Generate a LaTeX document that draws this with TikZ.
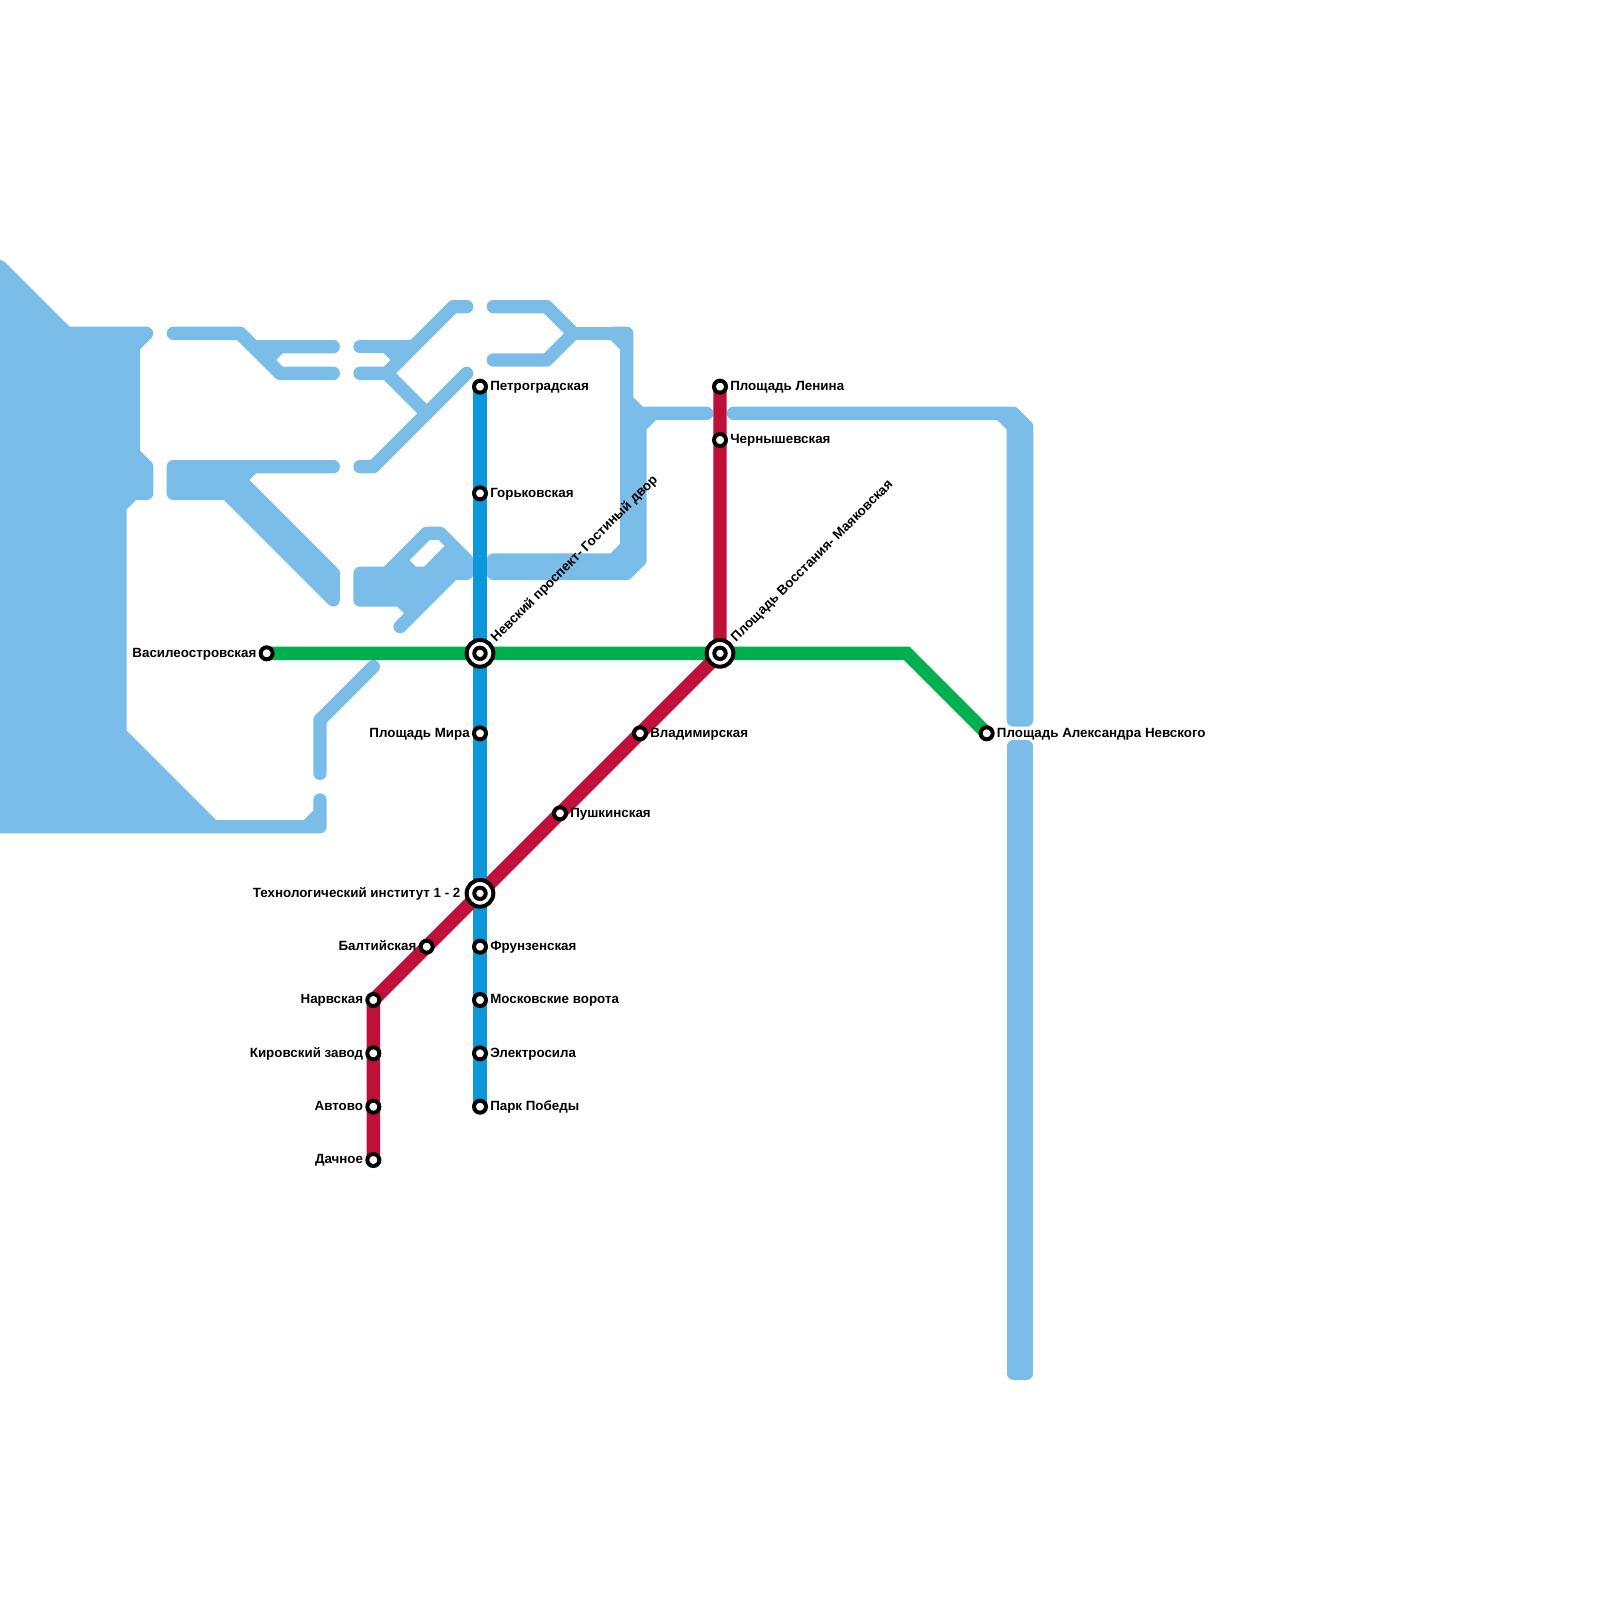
\documentclass[tikz,border=0pt]{standalone}
\usepackage{fontspec}
\setmainfont{Liberation Sans}
\usetikzlibrary{positioning, calc}
\pgfdeclarelayer{under}
\pgfsetlayers{under,main}
\definecolor{waterc}{HTML}{7ABDE9}
\definecolor{blueline}{HTML}{0B97D9}
\definecolor{redline}{HTML}{BE1038}
\definecolor{greenline}{HTML}{00B050}
\tikzset{
  water/.style={draw=waterc, line width=0.3333cm, line cap=round, line join=round},
  waterfill/.style={water, fill=waterc},
  metro/.style={line width=0.3333cm},
  stn/.style={draw=black, circle, fill=white, line width=0.1cm, minimum size=0.3cm, inner sep=0pt},
  hub/.style={draw=black, circle, fill=white, line width=0.1cm, minimum size=0.667cm, inner sep=0pt},
  hubin/.style={stn, minimum size=0.285cm},
  lbl/.style={font=\fontsize{9.5}{11}\selectfont\bfseries, inner sep=0pt, text height=0.25cm, text depth=0.06cm}
}
\begin{document}
\begin{tikzpicture}[x=0.33333cm, y=-0.33333cm]
    \useasboundingbox (0,0) rectangle (120,120);
    % станции
    \node[hub] (nevsky) at (36,49) {};
    \node[hub] (vosst) at (54,49) {};
    \node[hub] (tehno) at (36,67) {};
    \node[stn] (petro) at (36,29) {};
    \node[stn] (gorky) at (36,37) {};
    \node[stn] (mira) at (36,55) {};
    \node[stn] (frunze) at (36,71) {};
    \node[stn] (moskva) at (36,75) {};
    \node[stn] (elektro) at (36,79) {};
    \node[stn] (park) at (36,83) {};
    \node[stn] (lenin) at (54,29) {};
    \node[stn] (chern) at (54,33) {};
    \node[stn] (vlad) at (48,55) {};
    \node[stn] (pushk) at (42,61) {};
    \node[stn] (balt) at (32,71) {};
    \node[stn] (narva) at (28,75) {};
    \node[stn] (kirov) at (28,79) {};
    \node[stn] (avtovo) at (28,83) {};
    \node[stn] (dachnoe) at (28,87) {};
    \node[stn] (vasil) at (20,49) {};
    \node[stn] (nevskogo) at (74,55) {};
    \node[hubin] (nevsky_in) at (nevsky) {};
    \node[hubin] (vosst_in) at (vosst) {};
    \node[hubin] (tehno_in) at (tehno) {};
    \coordinate (bend) at (68,49);
    \begin{pgfonlayer}{under}
    % вода
    \draw[waterfill] (0,20) -- (5,25) -- (11,25) -- (10,26) -- (10,34) -- (11,35) -- (11,37) -- (10,37) -- (9,38) -- (9,55) -- (16,62) -- (23,62) -- (24,61) -- (24,60) -- (24,62) -- (0,62) -- cycle;
    \draw[water] (13,25) -- (18,25) -- (21,28) -- (25,28);
    \draw[water] (18,25) -- (19,26) -- (25,26);
    \draw[water] (21,26) -- (20,27);
    \draw[waterfill] (13,35) -- (25,35) -- (19,35) -- (18,36) -- (25,43) -- (25,45) -- (17,37) -- (13,37) -- cycle;
    \draw[water] (35,23) -- (34,23) -- (29,28) -- (27,28);
    \draw[water] (27,26) -- (31,26);
    \draw[water] (29,26) -- (30,27);
    \draw[water] (29,28) -- (32,31);
    \draw[water] (35,28) -- (28,35) -- (27,35);
    \draw[water] (37,23) -- (41,23) -- (43,25);
    \draw[water] (37,27) -- (41,27) -- (43,25);
    \draw[water] (43,25) -- (47,25);
    \draw[waterfill] (37,42) -- (46,42) -- (47,41) -- (47,26) -- (46,25) -- (47,25) -- (47,30) -- (48,31) -- (53,31) -- (49,31) -- (48,32) -- (48,42) -- (47,43) -- (37,43) -- cycle;
    \draw[waterfill] (55,31) -- (76,31) -- (77,32) -- (77,54) -- (76,54) -- (76,32) -- (75,31) -- cycle;
    \draw[waterfill] (76,56) -- (77,56) -- (77,103) -- (76,103) -- cycle;
    \draw[waterfill] (27,43) -- (29,43) -- (32,40) -- (33,40) -- (35,42) -- (35,43) -- (34,43) -- (30,47) -- (31,46) -- (30,45) -- (27,45) -- cycle;
    \fill[white] (32.25,40.5) -- (32.87,40.5) -- (33.32,40.95) -- (31.8,42.5) -- (31.2,42.5) -- (30.73,42) -- cycle;
    \draw[water] (28,50) -- (24,54) -- (24,58);
    % линии
    \draw[metro, blueline] (petro.center) -- (gorky.center) -- (nevsky.center) -- (mira.center) -- (tehno.center) -- (frunze.center) -- (moskva.center) -- (elektro.center) -- (park.center);
    \draw[metro, greenline] (vasil.center) -- (nevsky.center) -- (vosst.center) -- (bend) -- (nevskogo.center);
    \draw[metro, redline] (lenin.center) -- (chern.center) -- (vosst.center) -- (vlad.center) -- (pushk.center) -- (tehno.center) -- (balt.center) -- (narva.center) -- (kirov.center) -- (avtovo.center) -- (dachnoe.center);
    \end{pgfonlayer}
    % подписи
    \node[lbl, right=0.05cm of petro] (petro_t) {Петроградская};
    \node[lbl, right=0.05cm of gorky] (gorky_t) {Горьковская};
    \node[lbl, left=0.05cm of mira] (mira_t) {Площадь Мира};
    \node[lbl, left=0.1cm of tehno] (tehno_t) {Технологический институт 1 - 2};
    \node[lbl, right=0.05cm of frunze] (frunze_t) {Фрунзенская};
    \node[lbl, right=0.05cm of moskva] (moskva_t) {Московские ворота};
    \node[lbl, right=0.05cm of elektro] (elektro_t) {Электросила};
    \node[lbl, right=0.05cm of park] (park_t) {Парк Победы};
    \node[lbl, right=0.05cm of lenin] (lenin_t) {Площадь Ленина};
    \node[lbl, right=0.05cm of chern] (chern_t) {Чернышевская};
    \node[lbl, right=0.05cm of vlad] (vlad_t) {Владимирская};
    \node[lbl, right=0.05cm of pushk] (pushk_t) {Пушкинская};
    \node[lbl, left=0.05cm of balt] (balt_t) {Балтийская};
    \node[lbl, left=0.05cm of narva] (narva_t) {Нарвская};
    \node[lbl, left=0.05cm of kirov] (kirov_t) {Кировский завод};
    \node[lbl, left=0.05cm of avtovo] (avtovo_t) {Автово};
    \node[lbl, left=0.05cm of dachnoe] (dachnoe_t) {Дачное};
    \node[lbl, left=0.05cm of vasil] (vasil_t) {Василеостровская};
    \node[lbl, right=0.05cm of nevskogo] (nevskogo_t) {Площадь Александра Невского};
    \node[lbl, rotate=45, anchor=west] (nevsky_t) at ($(nevsky)+(1,-1)$) {Невский проспект- Гостиный двор};
    \node[lbl, rotate=45, anchor=west] (vosst_t) at ($(vosst)+(1,-1)$) {Площадь Восстания- Маяковская};
\end{tikzpicture}
\end{document}
